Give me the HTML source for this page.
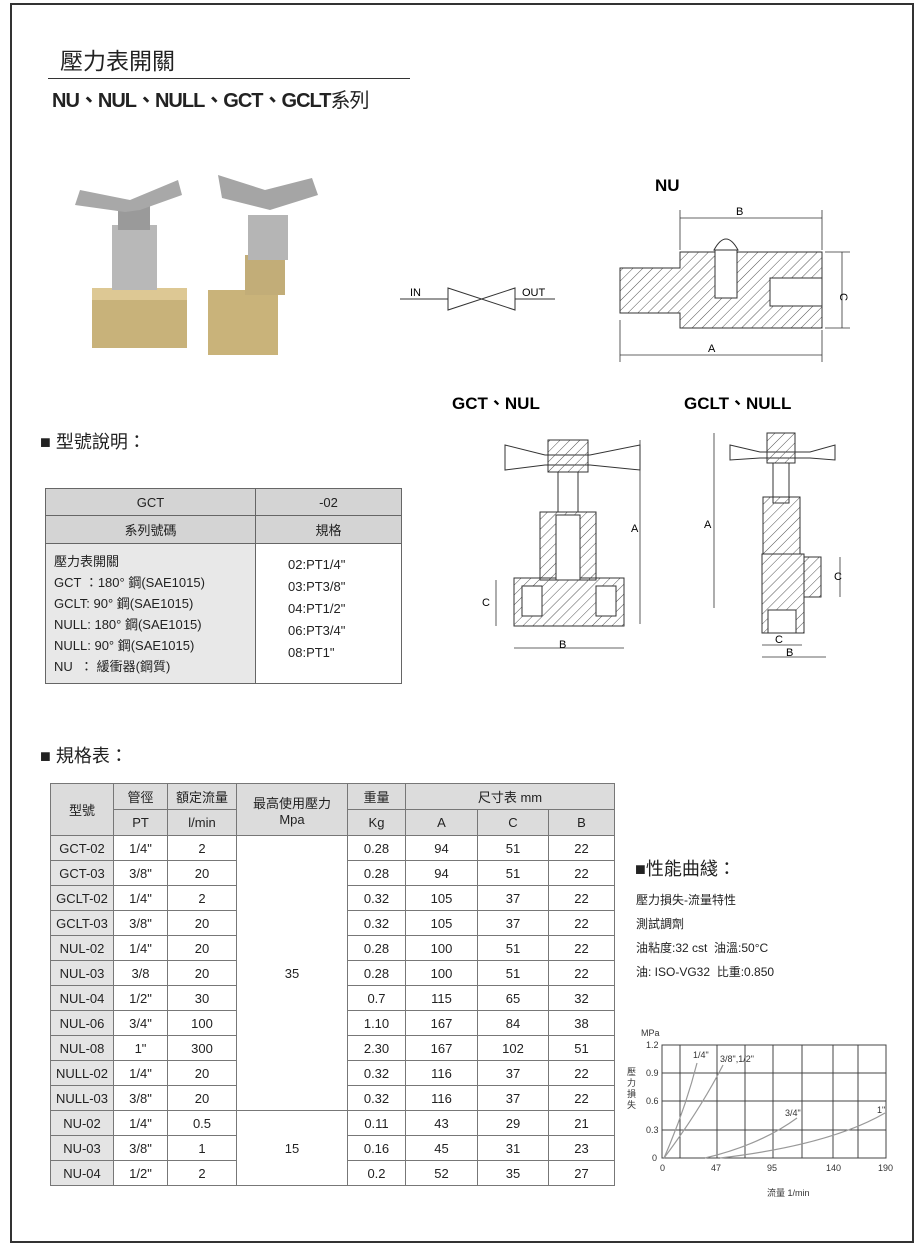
<!DOCTYPE html>
<html><head><meta charset="utf-8"><style>
body{margin:0;width:920px;height:1247px;background:#fff;position:relative;overflow:hidden;font-family:"Liberation Sans","Noto Sans CJK TC",sans-serif;color:#222}
.a{position:absolute}
table{border-collapse:collapse;position:absolute;font-size:13px;text-align:center}
.m td{border:1px solid #666}
.s td{border:1px solid #777;height:24px;padding:0}
.s .h td{background:#dcdcdc;height:25px}
.s td.g{background:#e4e4e4}
</style></head><body>
<div class="a" style="left:10px;top:3px;width:900px;height:1236px;border:2px solid #333"></div>
<div class="a" style="left:60px;top:42px;font-size:23px;font-family:'Noto Sans CJK TC',sans-serif">壓力表開關</div>
<div class="a" style="left:48px;top:78px;width:362px;border-top:1px solid #333"></div>
<div class="a" style="left:52px;top:84px;font-size:20px;font-weight:bold;letter-spacing:-1px">NU、NUL、NULL、GCT、GCLT<span style="font-weight:normal">系列</span></div>

<svg class="a" style="left:0;top:0" width="920" height="1247">
<!-- photos -->
<g>
<rect x="92" y="288" width="95" height="60" fill="#c8b27a"/><rect x="92" y="288" width="95" height="12" fill="#ddc894"/>
<rect x="112" y="225" width="45" height="65" fill="#b8b8b8"/><rect x="118" y="205" width="32" height="25" fill="#9a9a9a"/>
<path d="M80 190 L130 200 L178 180 L182 195 L140 210 L125 212 L75 205Z" fill="#a8a8a8"/>
<rect x="208" y="290" width="70" height="65" fill="#c9b37a"/><rect x="245" y="255" width="40" height="40" fill="#c2ad78"/>
<rect x="248" y="215" width="40" height="45" fill="#b5b5b5"/>
<path d="M218 175 L265 190 L312 178 L318 195 L270 210 L222 198Z" fill="#a5a5a5"/>
</g>
<!-- IN OUT symbol -->
<g stroke="#333" fill="none" stroke-width="1">
<line x1="400" y1="299" x2="448" y2="299"/><line x1="515" y1="299" x2="555" y2="299"/>
<path d="M448 288 L515 310 L515 288 L448 310Z"/>
</g>
<text x="410" y="296" font-size="11">IN</text><text x="522" y="296" font-size="11">OUT</text>
<text x="655" y="191" font-size="17" font-weight="bold">NU</text>
<text x="452" y="409" font-size="17" font-weight="bold">GCT、NUL</text>
<text x="684" y="409" font-size="17" font-weight="bold">GCLT、NULL</text>
<!-- NU drawing -->
<defs><pattern id="h" width="7" height="7" patternUnits="userSpaceOnUse" patternTransform="rotate(45)"><line x1="0" y1="0" x2="0" y2="7" stroke="#555" stroke-width="1"/></pattern></defs>
<g stroke="#333" fill="url(#h)">
<path d="M620 268 L680 268 L680 252 L822 252 L822 328 L680 328 L680 313 L620 313Z"/>
<rect x="770" y="278" width="52" height="28" fill="#fff"/>
<rect x="715" y="250" width="22" height="48" fill="#fff"/>
<path d="M714 250 Q726 228 738 250Z" fill="#fff"/>
</g>
<g stroke="#333" fill="none" stroke-width="0.8">
<line x1="680" y1="218" x2="822" y2="218"/><line x1="680" y1="210" x2="680" y2="250"/><line x1="822" y1="210" x2="822" y2="250"/>
<line x1="620" y1="355" x2="822" y2="355"/><line x1="620" y1="320" x2="620" y2="362"/><line x1="822" y1="330" x2="822" y2="362"/>
<line x1="842" y1="252" x2="842" y2="328"/><line x1="825" y1="252" x2="850" y2="252"/><line x1="825" y1="328" x2="850" y2="328"/>
</g>
<text x="736" y="215" font-size="11">B</text><text x="708" y="352" font-size="11">A</text><text x="840" y="293" font-size="11" transform="rotate(90 840 293)">C</text>
<!-- GCT drawing -->
<g stroke="#333" fill="#fff" stroke-width="1">
<path d="M505 445 L545 455 L590 455 L640 445 L640 470 L590 465 L545 465 L505 470Z"/>
<rect x="548" y="440" width="40" height="32" fill="url(#h)"/>
<rect x="558" y="472" width="20" height="40"/>
<rect x="540" y="512" width="56" height="68" fill="url(#h)"/>
<rect x="514" y="578" width="110" height="48" fill="url(#h)"/>
<rect x="522" y="586" width="20" height="30" fill="#fff"/><rect x="596" y="586" width="20" height="30" fill="#fff"/>
<rect x="556" y="515" width="24" height="65" fill="#fff"/>
</g>
<g stroke="#333" fill="none" stroke-width="0.8">
<line x1="640" y1="440" x2="640" y2="624"/><line x1="496" y1="580" x2="496" y2="626"/><line x1="514" y1="648" x2="624" y2="648"/>
</g>
<text x="631" y="532" font-size="11">A</text><text x="482" y="606" font-size="11">C</text><text x="559" y="648" font-size="11">B</text>
<!-- GCLT drawing -->
<g stroke="#333" fill="#fff" stroke-width="1">
<path d="M730 445 L760 452 L810 452 L835 445 L835 460 L810 458 L760 458 L730 460Z"/>
<rect x="767" y="433" width="28" height="30" fill="url(#h)"/>
<rect x="773" y="463" width="16" height="40"/>
<rect x="763" y="497" width="37" height="57" fill="url(#h)"/>
<rect x="762" y="554" width="42" height="79" fill="url(#h)"/>
<rect x="804" y="557" width="17" height="40" fill="url(#h)"/>
<rect x="768" y="610" width="28" height="23" fill="#fff"/>
</g>
<g stroke="#333" fill="none" stroke-width="0.8">
<line x1="714" y1="433" x2="714" y2="608"/><line x1="840" y1="557" x2="840" y2="597"/>
<line x1="762" y1="645" x2="802" y2="645"/><line x1="762" y1="657" x2="826" y2="657"/>
</g>
<text x="704" y="528" font-size="11">A</text><text x="834" y="580" font-size="11">C</text><text x="775" y="643" font-size="11">C</text><text x="786" y="656" font-size="11">B</text>
<!-- chart -->
<g stroke="#444" stroke-width="1" fill="none">
<rect x="662" y="1045" width="224" height="113"/>
<line x1="680" y1="1045" x2="680" y2="1158"/><line x1="717" y1="1045" x2="717" y2="1158"/><line x1="745" y1="1045" x2="745" y2="1158"/>
<line x1="773" y1="1045" x2="773" y2="1158"/><line x1="802" y1="1045" x2="802" y2="1158"/><line x1="833" y1="1045" x2="833" y2="1158"/><line x1="858" y1="1045" x2="858" y2="1158"/>
<line x1="662" y1="1073" x2="886" y2="1073"/><line x1="662" y1="1101" x2="886" y2="1101"/><line x1="662" y1="1130" x2="886" y2="1130"/>
</g>
<g stroke="#999" stroke-width="1.2" fill="none">
<path d="M664 1158 Q685 1110 697 1063"/><path d="M664 1158 Q700 1110 723 1065"/>
<path d="M705 1158 Q760 1145 797 1118"/><path d="M720 1158 Q830 1145 885 1113"/>
</g>
<g font-size="9" fill="#333">
<text x="641" y="1036">MPa</text><text x="646" y="1048">1.2</text><text x="646" y="1076">0.9</text><text x="646" y="1104">0.6</text><text x="646" y="1133">0.3</text><text x="652" y="1161">0</text>
<text x="660" y="1171">0</text><text x="711" y="1171">47</text><text x="767" y="1171">95</text><text x="826" y="1171">140</text><text x="878" y="1171">190</text>
<text x="693" y="1058">1/4"</text><text x="720" y="1062">3/8",1/2"</text><text x="785" y="1116">3/4"</text><text x="877" y="1113">1"</text>
<text x="767" y="1196">流量  1/min</text>
<text x="627" y="1075" font-size="9">壓</text><text x="627" y="1086" font-size="9">力</text><text x="627" y="1097" font-size="9">損</text><text x="627" y="1108" font-size="9">失</text>
</g>
</svg>

<div class="a" style="left:40px;top:428px;font-size:18px">■ 型號說明：</div>
<table class="m" style="left:45px;top:488px;width:357px">
<tr style="background:#d4d4d4;height:27px"><td style="width:207px">GCT</td><td>-02</td></tr>
<tr style="background:#d4d4d4;height:28px"><td>系列號碼</td><td>規格</td></tr>
<tr style="height:140px"><td style="text-align:left;padding-left:8px;line-height:21px;background:#e8e8e8">壓力表開關<br>GCT ：180° 鋼(SAE1015)<br>GCLT:  90° 鋼(SAE1015)<br>NULL: 180° 鋼(SAE1015)<br>NULL: 90° 鋼(SAE1015)<br>NU &nbsp;： 緩衝器(鋼質)</td><td style="text-align:left;padding-left:32px;line-height:22px;vertical-align:top;padding-top:10px">02:PT1/4"<br>03:PT3/8"<br>04:PT1/2"<br>06:PT3/4"<br>08:PT1"</td></tr>
</table>

<div class="a" style="left:40px;top:742px;font-size:18px">■ 規格表：</div>
<table class="s" style="left:50px;top:783px;width:565px">
<tr class="h"><td rowspan="2" style="width:62px">型號</td><td style="width:53px">管徑</td><td style="width:68px">額定流量</td><td rowspan="2" style="width:110px">最高使用壓力<br>Mpa</td><td style="width:57px">重量</td><td colspan="3">尺寸表 mm</td></tr>
<tr class="h"><td>PT</td><td>l/min</td><td>Kg</td><td style="width:71px">A</td><td style="width:70px">C</td><td>B</td></tr>
<tr><td class="g">GCT-02</td><td>1/4"</td><td>2</td><td rowspan="11">35</td><td>0.28</td><td>94</td><td>51</td><td>22</td></tr>
<tr><td class="g">GCT-03</td><td>3/8"</td><td>20</td><td>0.28</td><td>94</td><td>51</td><td>22</td></tr>
<tr><td class="g">GCLT-02</td><td>1/4"</td><td>2</td><td>0.32</td><td>105</td><td>37</td><td>22</td></tr>
<tr><td class="g">GCLT-03</td><td>3/8"</td><td>20</td><td>0.32</td><td>105</td><td>37</td><td>22</td></tr>
<tr><td class="g">NUL-02</td><td>1/4"</td><td>20</td><td>0.28</td><td>100</td><td>51</td><td>22</td></tr>
<tr><td class="g">NUL-03</td><td>3/8</td><td>20</td><td>0.28</td><td>100</td><td>51</td><td>22</td></tr>
<tr><td class="g">NUL-04</td><td>1/2"</td><td>30</td><td>0.7</td><td>115</td><td>65</td><td>32</td></tr>
<tr><td class="g">NUL-06</td><td>3/4"</td><td>100</td><td>1.10</td><td>167</td><td>84</td><td>38</td></tr>
<tr><td class="g">NUL-08</td><td>1"</td><td>300</td><td>2.30</td><td>167</td><td>102</td><td>51</td></tr>
<tr><td class="g">NULL-02</td><td>1/4"</td><td>20</td><td>0.32</td><td>116</td><td>37</td><td>22</td></tr>
<tr><td class="g">NULL-03</td><td>3/8"</td><td>20</td><td>0.32</td><td>116</td><td>37</td><td>22</td></tr>
<tr><td class="g">NU-02</td><td>1/4"</td><td>0.5</td><td rowspan="3">15</td><td>0.11</td><td>43</td><td>29</td><td>21</td></tr>
<tr><td class="g">NU-03</td><td>3/8"</td><td>1</td><td>0.16</td><td>45</td><td>31</td><td>23</td></tr>
<tr><td class="g">NU-04</td><td>1/2"</td><td>2</td><td>0.2</td><td>52</td><td>35</td><td>27</td></tr>
</table>

<div class="a" style="left:635px;top:855px;font-size:18px">■性能曲綫：</div>
<div class="a" style="left:636px;top:888px;font-size:12px;line-height:24px">壓力損失-流量特性<br>測試調劑<br>油粘度:32 cst &nbsp;油溫:50°C<br>油: ISO-VG32 &nbsp;比重:0.850</div>
</body></html>
